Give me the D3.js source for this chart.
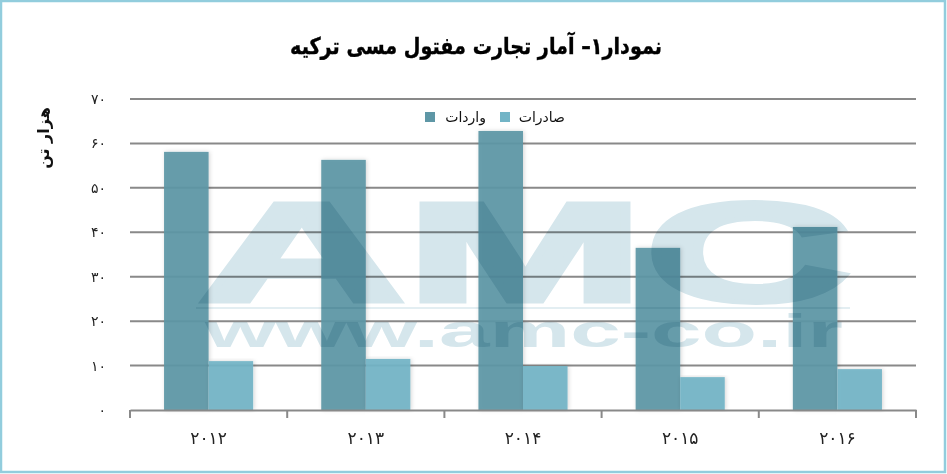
<!DOCTYPE html>
<html><head><meta charset="utf-8">
<script src="https://cdn.jsdelivr.net/npm/d3@7/dist/d3.min.js"></script>
<style>
html,body{margin:0;padding:0;background:#fff;}
svg{display:block;}
.wm{mix-blend-mode:multiply;}
</style></head>
<body>
<script>
const categories = ["۲۰۱۲","۲۰۱۳","۲۰۱۴","۲۰۱۵","۲۰۱۶"];
const seriesNames = ["واردات","صادرات"];
const imports = [58.1, 56.3, 62.8, 36.5, 41.2];
const exports = [11.0, 11.5, 9.9, 7.4, 9.2];
const yTicks = [0,10,20,30,40,50,60,70];
const yTickLabels = ["۰","۱۰","۲۰","۳۰","۴۰","۵۰","۶۰","۷۰"];
const titleText = "نمودار۱– آمار تجارت مفتول مسی ترکیه";
const yTitle = "هزار تن";

const W = 947, H = 474;
const colors = ["#5e97a6", "#72b4c6"];
const font = "'DejaVu Sans', sans-serif";

const svg = d3.select("body").append("svg").attr("width", W).attr("height", H);
const defs = svg.append("defs");
const f = defs.append("filter").attr("id","sh").attr("x","-20%").attr("y","-5%").attr("width","140%").attr("height","110%");
f.append("feDropShadow").attr("dx",1).attr("dy",0).attr("stdDeviation",2).attr("flood-color","#000").attr("flood-opacity",0.18);

svg.append("rect").attr("x",1).attr("y",1).attr("width",W-3).attr("height",H-3)
  .attr("fill","#fff").attr("stroke","#92cddd").attr("stroke-width",2.5);

const x0 = d3.scaleBand().domain(categories).range([130, 916]).padding(0);
const x1 = d3.scaleBand().domain(seriesNames).range([0, x0.bandwidth()]).paddingInner(0).paddingOuter(0.764);
const y = d3.scaleLinear().domain([0,70]).range([410, 99]);

// gridlines
svg.append("g").selectAll("line").data(yTicks.filter(d=>d>0)).join("line")
  .attr("x1",130).attr("x2",916).attr("y1",d=>y(d)).attr("y2",d=>y(d))
  .attr("stroke","#898989").attr("stroke-width",2);

// bars
const data = categories.map((c,i)=>({c, vals:[imports[i], exports[i]]}));
const g = svg.append("g");
data.forEach(d=>{
  d.vals.forEach((v,j)=>{
    g.append("rect")
      .attr("x", x0(d.c)+x1(seriesNames[j]))
      .attr("y", y(v))
      .attr("width", x1.bandwidth())
      .attr("height", y(0)-y(v))
      .attr("fill", colors[j])
      .attr("fill-opacity", 0.93)
      .attr("filter","url(#sh)");
  });
});

// x axis baseline + ticks
const xa = svg.append("g").attr("transform",`translate(0,${y(0)})`)
  .call(d3.axisBottom(x0).tickSize(0).tickFormat(d=>d));
xa.select(".domain").attr("stroke","#898989").attr("stroke-width",2);
xa.selectAll("text").attr("font-family",font).attr("font-size",17).attr("fill","#222").attr("dy","1.85em");
const bounds = categories.map(c=>x0(c)).concat([x0.range()[1]]);
svg.append("g").selectAll("line").data(bounds).join("line")
  .attr("x1",d=>d).attr("x2",d=>d).attr("y1",y(0)).attr("y2",y(0)+8)
  .attr("stroke","#898989").attr("stroke-width",2);

// y axis labels
const ya = svg.append("g").attr("transform","translate(106,0)")
  .call(d3.axisLeft(y).tickValues(yTicks).tickSize(0).tickFormat((d,i)=>yTickLabels[i]));
ya.select(".domain").remove();
ya.selectAll("text").attr("font-family",font).attr("font-size",14).attr("fill","#222").attr("x",0);

// y title
svg.append("text").attr("transform","translate(49,138) rotate(-90)")
  .attr("text-anchor","middle").attr("font-family",font).attr("font-weight","bold")
  .attr("font-size",16).attr("fill","#111").attr("direction","rtl").text(yTitle);

// title
svg.append("text").attr("x",476).attr("y",54).attr("text-anchor","middle")
  .attr("font-family",font).attr("font-weight","bold").attr("font-size",23)
  .attr("textLength",372).attr("lengthAdjust","spacingAndGlyphs")
  .attr("fill","#000").attr("stroke","#000").attr("stroke-width",0.4)
  .attr("direction","rtl").text(titleText);

// legend
const legend = [{n:seriesNames[0], c:colors[0], sx:425, tx:486},{n:seriesNames[1], c:colors[1], sx:500, tx:565}];
legend.forEach(l=>{
  svg.append("rect").attr("x",l.sx).attr("y",112).attr("width",10).attr("height",10).attr("fill",l.c);
  svg.append("text").attr("x",l.tx).attr("y",122).attr("text-anchor","end")
    .attr("font-family",font).attr("font-size",14).attr("fill","#111").text(l.n);
});

// watermark
const wfont = "'Liberation Sans', Arial, sans-serif";
const wm = svg.append("g").attr("class","wm");
wm.append("text").attr("x",198).attr("y",301).attr("textLength",654).attr("lengthAdjust","spacingAndGlyphs")
  .attr("font-family",wfont).attr("font-weight","bold").attr("font-size",141)
  .attr("fill","#d5e6ec").attr("stroke","#d5e6ec").attr("stroke-width",5).attr("stroke-linejoin","miter").text("AMC");
wm.append("rect").attr("x",196).attr("y",307).attr("width",654).attr("height",2).attr("fill","#e3eef2");
wm.append("text").attr("x",205).attr("y",347).attr("textLength",638).attr("lengthAdjust","spacingAndGlyphs")
  .attr("font-family",wfont).attr("font-weight","bold").attr("font-size",46).attr("fill","#d5e6ec").text("www.amc-co.ir");
</script>
</body></html>
